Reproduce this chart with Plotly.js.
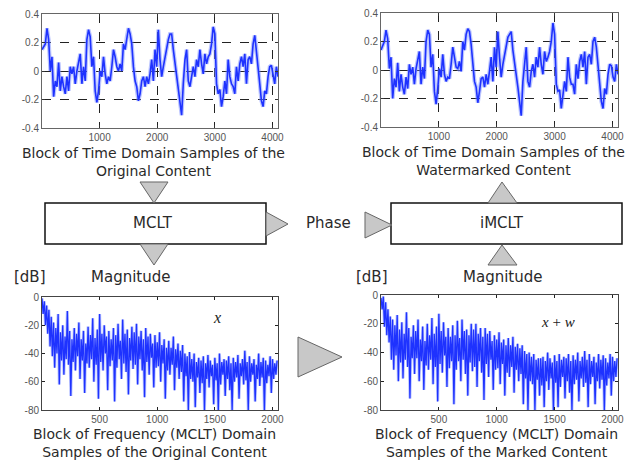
<!DOCTYPE html>
<html><head><meta charset="utf-8">
<script src="https://cdn.plot.ly/plotly-3.0.1.min.js"></script>
<style>html,body{margin:0;padding:0;background:#fff}#chart{width:632px;height:460px}</style>
</head><body><div id="chart"></div>
<script>
// ---- data ----
const timeOriginal = [0.15,0.17,0.19,0.30,0.22,0.00,0.10,-0.18,-0.07,-0.11,
 0.06,-0.14,-0.04,-0.11,-0.16,-0.04,-0.14,0.03,-0.02,0.03,
 -0.09,0.00,0.05,0.12,-0.09,0.03,-0.07,0.22,0.29,0.24,
 0.03,0.10,-0.14,-0.22,-0.14,0.00,-0.04,0.10,-0.02,-0.09,
 -0.04,-0.07,0.03,0.15,0.10,0.03,0.00,0.05,0.00,0.19,
 0.15,0.24,0.30,0.26,0.19,0.03,-0.07,-0.11,-0.21,-0.16,
 -0.07,-0.04,-0.11,-0.04,-0.09,-0.02,0.08,-0.07,0.15,0.03,
 0.29,0.08,-0.04,0.03,0.10,0.17,0.22,0.26,0.26,0.15,
 0.05,-0.04,-0.11,-0.21,-0.31,-0.09,0.08,0.15,-0.07,-0.11,
 -0.02,0.03,-0.04,0.08,0.03,0.15,0.05,-0.02,0.12,0.05,
 0.10,0.12,0.19,0.31,0.26,-0.09,-0.16,-0.13,-0.25,-0.18,
 -0.07,-0.16,0.08,-0.04,-0.09,-0.11,-0.16,0.03,-0.07,0.05,
 0.10,0.03,0.12,-0.09,0.08,0.10,0.05,0.19,0.25,0.15,
 0.03,-0.09,-0.21,-0.25,-0.14,-0.16,-0.04,0.03,0.04,-0.04,
 -0.09,0.03,-0.04];
const timeMarked = [0.14,0.17,0.20,0.28,0.22,0.01,0.09,-0.20,-0.06,-0.12,
 0.05,-0.15,-0.03,-0.12,-0.17,-0.05,-0.13,0.04,-0.03,0.02,
 -0.10,0.01,0.06,0.13,-0.10,0.02,-0.06,0.20,0.28,0.25,
 0.02,0.11,-0.15,-0.24,-0.13,0.01,-0.05,0.11,-0.03,-0.08,
 -0.05,-0.06,0.04,0.16,0.09,0.02,0.01,0.06,-0.01,0.20,
 0.14,0.25,0.29,0.27,0.18,0.02,-0.08,-0.12,-0.23,-0.15,
 -0.06,-0.05,-0.12,-0.03,-0.10,-0.01,0.09,-0.08,0.16,0.02,
 0.27,0.09,-0.05,0.04,0.11,0.16,0.23,0.25,0.27,0.14,
 0.06,-0.05,-0.12,-0.22,-0.32,-0.08,0.07,0.16,-0.08,-0.12,
 -0.01,0.04,-0.05,0.09,0.02,0.16,0.04,-0.03,0.13,0.06,
 0.09,0.13,0.20,0.33,0.25,-0.10,-0.15,-0.14,-0.27,-0.17,
 -0.08,-0.15,0.09,-0.05,-0.10,-0.10,-0.17,0.04,-0.06,0.06,
 0.11,0.02,0.13,-0.10,0.09,0.11,0.04,0.20,0.23,0.16,
 0.02,-0.10,-0.22,-0.27,-0.13,-0.17,-0.03,0.04,0.03,-0.05,
 -0.08,0.04,-0.03];
const timeStep = 28.85;

const specOriginal = [-1,-12,-3,-20,-6,-26,-9,-35,-14,-42,
 -18,-50,-22,-40,-12,-62,-25,-45,-20,-55,
 -28,-44,-10,-48,-24,-70,-30,-46,-22,-52,
 -26,-42,-18,-58,-30,-45,-24,-68,-33,-47,
 -21,-50,-27,-44,-15,-60,-29,-48,-23,-72,
 -12,-46,-26,-52,-20,-40,-28,-66,-24,-49,
 -30,-45,-22,-74,-27,-50,-19,-44,-31,-58,
 -16,-47,-26,-53,-23,-69,-29,-45,-21,-51,
 -25,-48,-19,-62,-28,-44,-24,-52,-30,-71,
 -22,-46,-28,-55,-26,-43,-33,-64,-27,-50,
 -32,-49,-25,-60,-34,-47,-30,-72,-36,-52,
 -31,-55,-36,-48,-28,-66,-37,-50,-33,-58,
 -38,-53,-34,-74,-40,-56,-42,-80,-39,-58,
 -44,-60,-40,-78,-46,-57,-43,-68,-45,-61,
 -42,-80,-47,-58,-41,-64,-45,-56,-48,-76,
 -43,-59,-47,-80,-40,-62,-46,-55,-44,-70,
 -45,-58,-42,-66,-47,-80,-43,-60,-46,-57,
 -41,-72,-47,-56,-44,-62,-38,-59,-46,-80,
 -42,-60,-47,-55,-44,-74,-48,-58,-40,-63,
 -46,-57,-43,-80,-45,-61,-48,-56,-42,-68,
 -44,-58,-47,-55,-45];
const specMarked = [-2,-10,-1,-22,-5,-28,-10,-33,-15,-45,
 -17,-52,-21,-42,-14,-60,-24,-47,-19,-58,
 -27,-45,-12,-50,-23,-72,-29,-44,-21,-55,
 -25,-44,-17,-60,-31,-46,-22,-66,-32,-49,
 -20,-52,-28,-45,-16,-62,-27,-50,-22,-74,
 -13,-48,-25,-54,-19,-42,-29,-64,-23,-51,
 -29,-46,-21,-76,-28,-52,-18,-46,-30,-60,
 -17,-45,-25,-55,-24,-70,-28,-47,-20,-53,
 -24,-50,-20,-64,-27,-46,-23,-54,-29,-73,
 -23,-48,-27,-57,-25,-45,-32,-66,-28,-52,
 -31,-51,-26,-62,-33,-48,-31,-70,-35,-54,
 -30,-57,-35,-50,-29,-68,-36,-52,-34,-60,
 -37,-55,-35,-76,-39,-58,-41,-80,-40,-60,
 -43,-62,-41,-80,-45,-59,-44,-70,-44,-63,
 -43,-78,-46,-60,-40,-66,-44,-58,-47,-80,
 -42,-61,-46,-78,-41,-64,-45,-57,-43,-72,
 -44,-60,-41,-68,-46,-80,-42,-62,-45,-59,
 -40,-74,-46,-58,-43,-64,-39,-61,-45,-78,
 -41,-62,-46,-57,-43,-76,-47,-60,-41,-65,
 -45,-59,-42,-80,-44,-63,-47,-58,-41,-70,
 -43,-60,-46,-57,-44];
const specStep = 10;

const timeTickVals = [1000,2000,3000,4000];
const timeTickText = ['1000','2000','3000','4000'];
const ampTickVals = [-0.4,-0.2,0,0.2,0.4];
const ampTickText = ['-0.4','-0.2','0','0.2','0.4'];
const freqTickVals = [500,1000,1500,2000];
const freqTickText = ['500','1000','1500','2000'];
const dbTickVals = [-80,-60,-40,-20,0];
const dbTickText = ['-80','-60','-40','-20','0'];

const captions = {
  tl: ['Block of Time Domain Samples of the','Original Content'],
  tr: ['Block of Time Domain Samples of the','Watermarked Content'],
  bl: ['Block of Frequency (MCLT) Domain','Samples of the Original Content'],
  br: ['Block of Frequency (MCLT) Domain','Samples of the Marked Content']
};

// ---- layout helpers ----
const W = 632, H = 460;
const X = p => p / W, Y = p => 1 - p / H;
const tickFont = {family:'Liberation Sans, Arial, sans-serif', size:10, color:'#555'};
const textFont = {family:'DejaVu Sans, sans-serif', size:15, color:'#2a2a2a'};
const capFont = {family:'DejaVu Sans, sans-serif', size:14, color:'#2a2a2a'};

function halo(y, step, xa, ya, w){
  return {type:'scatter', mode:'lines', y:y, x0:0, dx:step, xaxis:xa, yaxis:ya,
    line:{color:'rgba(120,140,255,0.5)', width:w}, hoverinfo:'skip'};
}
function core(y, step, xa, ya, w){
  return {type:'scatter', mode:'lines', y:y, x0:0, dx:step, xaxis:xa, yaxis:ya,
    line:{color:'#1e32ff', width:w}, hoverinfo:'skip'};
}
const data = [
  halo(timeOriginal, timeStep, 'x', 'y', 4), core(timeOriginal, timeStep, 'x', 'y', 1.6),
  halo(timeMarked, timeStep, 'x2', 'y2', 4), core(timeMarked, timeStep, 'x2', 'y2', 1.6),
  halo(specOriginal, specStep, 'x3', 'y3', 3), core(specOriginal, specStep, 'x3', 'y3', 1.3),
  halo(specMarked, specStep, 'x4', 'y4', 3), core(specMarked, specStep, 'x4', 'y4', 1.3)
];

function timeX(dom, anchor){
  return {domain:dom, anchor:anchor, range:[0,4096], tickmode:'array', tickvals:timeTickVals, ticktext:timeTickText,
    ticks:'inside', ticklen:3, tickcolor:'#333', showline:true, mirror:'allticks', linecolor:'#666', linewidth:1,
    showgrid:true, gridcolor:'#222', griddash:'dash', gridwidth:1, zeroline:false, tickfont:tickFont, fixedrange:true};
}
function ampY(dom, anchor){
  return {domain:dom, anchor:anchor, range:[-0.4,0.4], tickmode:'array', tickvals:ampTickVals, ticktext:ampTickText,
    ticks:'inside', ticklen:3, tickcolor:'#333', showline:true, mirror:'allticks', linecolor:'#666', linewidth:1,
    showgrid:true, gridcolor:'#222', griddash:'dash', gridwidth:1, zeroline:false, tickfont:tickFont, fixedrange:true};
}
function freqX(dom, anchor){
  return {domain:dom, anchor:anchor, range:[0,2048], tickmode:'array', tickvals:freqTickVals, ticktext:freqTickText,
    ticks:'inside', ticklen:3, tickcolor:'#222', showline:true, mirror:'allticks', linecolor:'#444', linewidth:1,
    showgrid:false, zeroline:false, tickfont:tickFont, fixedrange:true};
}
function dbY(dom, anchor){
  return {domain:dom, anchor:anchor, range:[-80,0], tickmode:'array', tickvals:dbTickVals, ticktext:dbTickText,
    ticks:'inside', ticklen:3, tickcolor:'#222', showline:true, mirror:'allticks', linecolor:'#444', linewidth:1,
    showgrid:false, zeroline:false, tickfont:tickFont, fixedrange:true};
}

function poly(pts, fill, lc, lw){
  const d = pts.map((p,i)=>(i?'L':'M')+X(p[0]).toFixed(5)+','+Y(p[1]).toFixed(5)).join(' ')+' Z';
  return {type:'path', xref:'paper', yref:'paper', path:d, fillcolor:fill, line:{color:lc, width:lw}, layer:'above'};
}
function rect(x0,y0,x1,y1){
  return {type:'rect', xref:'paper', yref:'paper', x0:X(x0), x1:X(x1), y0:Y(y1), y1:Y(y0),
    fillcolor:'#fff', line:{color:'#111', width:1.5}};
}
const triFill = '#c8c8c8', triLine = '#666';
const shapes = [
  rect(45,203,266,244), rect(391,203,622,244),
  poly([[140,182],[168,182],[154,203]], triFill, triLine, 1),
  poly([[140,244],[168,244],[154,265]], triFill, triLine, 1),
  poly([[266,212],[266,236],[288,224]], triFill, triLine, 1),
  poly([[365,212],[365,238],[392,225]], triFill, triLine, 1),
  poly([[488,203],[517,203],[502,182]], triFill, triLine, 1),
  poly([[488,265],[517,265],[502,245]], triFill, triLine, 1),
  poly([[298,337],[298,377],[342,357]], triFill, triLine, 1)
];

function ann(text, px, py, font){
  return {text:text, xref:'paper', yref:'paper', x:X(px), y:Y(py), xanchor:'center', yanchor:'middle',
    showarrow:false, font:font || textFont};
}
function caption(lines, px, py){
  return ann(lines.join('<br>'), px, py, capFont);
}
const annotations = [
  caption(captions.tl,153,162),
  caption(captions.tr,494,161),
  caption(captions.bl,154,443),
  caption(captions.br,496,443),
  ann('MCLT',153,223), ann('Phase',328,223), ann('iMCLT',502,223),
  ann('[dB]',30,277), ann('Magnitude',130,277),
  ann('[dB]',372,277), ann('Magnitude',502,277),
  ann('<i>x</i>',217,317,{family:'Liberation Serif, serif', size:16, color:'#222'}),
  ann('<i>x</i> + <i>w</i>',558,322,{family:'Liberation Serif, serif', size:15, color:'#222'})
];

const layout = {
  width:W, height:H, margin:{l:0,r:0,t:0,b:0}, paper_bgcolor:'#fff', plot_bgcolor:'#fff', showlegend:false,
  xaxis: timeX([X(42),X(278)],'y'),  yaxis: ampY([Y(128),Y(14)],'x'),
  xaxis2: timeX([X(381),X(618)],'y2'), yaxis2: ampY([Y(127),Y(13)],'x2'),
  xaxis3: freqX([X(42),X(278)],'y3'), yaxis3: dbY([Y(410),Y(297)],'x3'),
  xaxis4: freqX([X(381),X(618)],'y4'), yaxis4: dbY([Y(410),Y(295)],'x4'),
  shapes:shapes, annotations:annotations
};
Plotly.newPlot('chart', data, layout, {displayModeBar:false, staticPlot:true});
</script></body></html>
